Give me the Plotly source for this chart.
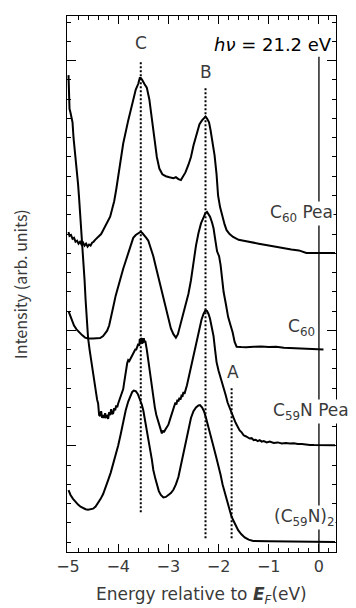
import plotly.graph_objects as go

# ---------------- data (energy in eV, intensity in arb. units incl. offsets) -------------
c60pea_x = [-4.99,-4.97,-4.94,-4.91,-4.88,-4.85,-4.82,-4.79,-4.76,-4.73,-4.70,-4.67,-4.64,-4.61,-4.58,-4.55,
            -4.52,-4.49,-4.46,-4.42,-4.38,-4.34,-4.30,-4.25,-4.20,-4.16,-4.12,-4.08,-4.04,-3.98,-3.90,-3.80,
            -3.70,-3.65,-3.60,-3.57,-3.55,-3.52,-3.48,-3.43,-3.38,-3.33,-3.28,-3.23,-3.18,-3.12,-3.05,-2.98,
            -2.90,-2.85,-2.80,-2.75,-2.70,-2.66,-2.60,-2.55,-2.50,-2.44,-2.38,-2.33,-2.29,-2.26,-2.23,-2.19,
            -2.16,-2.12,-2.08,-2.04,-2.01,-1.97,-1.93,-1.88,-1.84,-1.78,-1.71,-1.60,-1.50,-1.38,-1.20,-1.00,
            -0.80,-0.70,-0.55,-0.40,-0.32,-0.25,0.00,0.32]
c60pea_y = [16.1,15.9,15.95,15.75,15.8,15.6,15.65,15.5,15.6,15.45,15.55,15.4,15.5,15.35,15.45,15.4,
            15.55,15.6,15.7,15.8,15.9,16.0,16.2,16.45,16.7,16.9,17.3,17.7,18.3,19.3,20.7,21.9,
            23.0,23.5,23.8,24.1,24.1,24.0,23.8,23.6,23.0,22.1,21.0,20.0,19.4,19.1,19.0,18.95,
            18.9,18.95,18.85,18.8,19.0,19.2,19.6,20.0,20.6,21.2,21.7,21.9,22.05,22.1,22.0,21.8,
            21.4,20.8,20.1,19.1,18.0,17.4,16.95,16.5,16.2,16.0,15.85,15.7,15.65,15.58,15.5,15.4,
            15.3,15.25,15.2,15.15,15.1,15.02,15.02,15.02]

c60_x = [-4.99,-4.95,-4.92,-4.88,-4.83,-4.78,-4.72,-4.66,-4.60,-4.50,-4.40,-4.36,-4.30,-4.26,-4.22,-4.18,
         -4.14,-4.10,-4.05,-4.00,-3.95,-3.90,-3.85,-3.80,-3.75,-3.70,-3.65,-3.60,-3.55,-3.52,-3.48,-3.44,
         -3.40,-3.35,-3.30,-3.25,-3.20,-3.15,-3.10,-3.05,-3.00,-2.95,-2.90,-2.85,-2.81,-2.77,-2.73,-2.70,
         -2.65,-2.60,-2.55,-2.50,-2.45,-2.40,-2.35,-2.30,-2.26,-2.23,-2.20,-2.17,-2.13,-2.10,-2.06,-2.03,
         -1.99,-1.96,-1.93,-1.90,-1.85,-1.81,-1.76,-1.72,-1.68,-1.64,-1.55,-1.45,-1.30,-1.15,-1.00,-0.85,
         -0.70,-0.50,-0.38,-0.20,0.09]
c60_y = [12.0,11.75,11.5,11.25,11.05,10.9,10.75,10.62,10.58,10.58,10.58,10.6,10.7,10.82,10.98,11.25,
         11.65,12.2,12.8,13.3,13.75,14.2,14.6,15.0,15.5,15.8,15.95,16.05,16.12,16.05,15.95,15.8,
         15.65,15.3,14.85,14.3,13.75,13.25,12.75,12.1,11.55,11.1,10.8,10.62,10.8,11.2,11.7,12.05,
         12.5,12.9,13.6,14.6,15.4,16.05,16.55,16.85,17.1,17.15,17.05,16.9,16.6,16.3,15.6,15.1,
         14.85,14.4,13.7,13.0,12.3,11.7,11.25,10.9,10.4,10.15,10.13,10.12,10.15,10.16,10.13,10.15,
         10.1,10.08,10.07,10.03,10.01]

c59npea_x = [-4.99,-4.98,-4.97,-4.95,-4.93,-4.91,-4.89,-4.86,-4.83,-4.80,-4.78,-4.76,-4.74,-4.72,-4.70,-4.67,
             -4.65,-4.63,-4.60,-4.57,-4.54,-4.50,-4.47,-4.44,-4.42,-4.40,-4.38,-4.36,-4.34,-4.32,-4.30,-4.28,
             -4.26,-4.24,-4.22,-4.20,-4.18,-4.16,-4.14,-4.12,-4.10,-4.08,-4.06,-4.04,-4.02,-4.00,-3.98,-3.95,
             -3.92,-3.90,-3.88,-3.86,-3.84,-3.82,-3.80,-3.78,-3.76,-3.74,-3.72,-3.70,-3.68,-3.66,-3.64,-3.62,
             -3.60,-3.58,-3.57,-3.56,-3.55,-3.54,-3.53,-3.52,-3.51,-3.50,-3.49,-3.48,-3.46,-3.43,-3.40,-3.37,
             -3.33,-3.30,-3.27,-3.24,-3.21,-3.18,-3.15,-3.13,-3.11,-3.09,-3.06,-3.03,-3.00,-2.97,-2.94,-2.91,
             -2.88,-2.86,-2.84,-2.82,-2.80,-2.78,-2.76,-2.74,-2.72,-2.70,-2.68,-2.66,-2.63,-2.60,-2.57,-2.54,
             -2.50,-2.46,-2.42,-2.38,-2.34,-2.30,-2.26,-2.23,-2.20,-2.17,-2.14,-2.10,-2.07,-2.04,-2.00,-1.97,
             -1.93,-1.90,-1.86,-1.82,-1.78,-1.74,-1.70,-1.66,-1.62,-1.58,-1.54,-1.50,-1.46,-1.42,-1.38,-1.34,
             -1.30,-1.26,-1.22,-1.18,-1.14,-1.10,-1.04,-0.98,-0.90,-0.82,-0.74,-0.66,-0.58,-0.50,-0.42,-0.34,
             -0.26,-0.18,-0.10,0.00,0.10,0.32]
c59npea_y = [24.25,23.6,22.5,22.3,21.9,21.8,21.0,20.3,19.6,18.6,17.9,17.2,16.4,15.6,14.8,13.6,
             12.6,11.5,10.6,10.0,9.45,8.8,8.2,7.8,7.4,7.2,6.6,6.55,6.8,6.45,6.6,6.45,
             6.7,6.5,6.55,6.4,6.75,6.6,6.9,6.65,6.7,6.95,6.85,7.1,7.0,7.2,7.35,7.5,
             7.8,7.95,8.3,8.7,9.0,9.3,9.45,9.4,9.5,9.6,9.7,9.85,9.9,10.0,10.0,10.2,
             10.3,10.2,10.55,10.35,10.6,10.45,10.6,10.3,10.55,10.35,10.6,10.4,10.45,10.0,9.45,8.7,
             8.05,7.5,7.0,6.6,6.3,6.0,5.7,5.65,5.8,5.7,5.85,6.0,6.1,6.35,6.6,6.85,
             7.1,7.25,7.15,7.4,7.3,7.5,7.4,7.6,7.55,7.8,7.7,7.95,8.15,8.5,8.85,9.25,
             9.75,10.25,10.7,11.1,11.55,11.85,12.05,12.0,11.85,11.6,11.2,10.7,10.0,9.35,8.9,8.65,
             8.3,8.0,7.65,7.25,6.95,6.7,6.45,6.2,6.0,5.8,5.7,5.55,5.5,5.42,5.38,5.4,
             5.3,5.32,5.25,5.3,5.22,5.25,5.18,5.22,5.15,5.18,5.12,5.15,5.12,5.14,5.1,5.1,
             5.06,5.05,5.04,5.03,5.03,5.03]

c59n2_x = [-4.99,-4.95,-4.90,-4.85,-4.80,-4.75,-4.70,-4.65,-4.60,-4.55,-4.50,-4.45,-4.40,-4.35,-4.30,-4.25,
           -4.20,-4.15,-4.10,-4.05,-4.00,-3.95,-3.90,-3.85,-3.80,-3.76,-3.72,-3.69,-3.65,-3.61,-3.57,-3.53,
           -3.50,-3.46,-3.43,-3.40,-3.37,-3.33,-3.30,-3.26,-3.23,-3.19,-3.15,-3.10,-3.05,-3.00,-2.95,-2.90,
           -2.85,-2.80,-2.75,-2.70,-2.65,-2.60,-2.55,-2.50,-2.45,-2.40,-2.37,-2.33,-2.29,-2.25,-2.20,-2.15,
           -2.10,-2.05,-2.00,-1.96,-1.92,-1.87,-1.83,-1.79,-1.75,-1.71,-1.66,-1.61,-1.55,-1.48,-1.40,-1.31,
           -1.00,-0.38,0.32]
c59n2_y = [2.7,2.45,2.25,2.08,1.95,1.84,1.76,1.71,1.69,1.7,1.74,1.85,2.03,2.25,2.5,2.82,
           3.22,3.6,4.03,4.5,5.02,5.6,6.3,6.85,7.3,7.6,7.8,7.87,7.84,7.7,7.45,7.15,
           6.85,6.3,5.8,5.3,4.9,4.3,3.75,3.3,2.95,2.65,2.45,2.32,2.35,2.46,2.55,2.72,
           3.0,3.38,4.0,4.6,5.3,5.95,6.45,6.8,7.0,7.1,7.12,7.0,6.8,6.45,5.9,5.35,
           4.95,4.45,4.0,3.5,3.0,2.52,2.1,1.75,1.4,1.15,0.88,0.62,0.42,0.25,0.13,0.06,
           0.05,0.03,0.01]

peak_names = ["C", "B", "A"]
peak_pos = [-3.55, -2.26, -1.74]
peak_top = [24.95, 23.63, 8.0]
peak_bottom = [1.55, 0.2, 0.2]
label_y = [25.92, 24.41, 8.83]

x_ticks = [-5, -4, -3, -2, -1, 0]
y_major_ticks = [5, 11, 25]

FONT = "DejaVu Sans"
FONT2 = "Noto Sans CJK JP"
TXT = "#3a3a3a"

fig = go.Figure()

line = dict(color="black", width=2)
for xs, ys in [(c60pea_x, c60pea_y), (c60_x, c60_y), (c59npea_x, c59npea_y), (c59n2_x, c59n2_y)]:
    fig.add_trace(go.Scatter(x=xs, y=ys, mode="lines", line=line, hoverinfo="skip"))

# dotted peak markers
for p, t, b in zip(peak_pos, peak_top, peak_bottom):
    fig.add_trace(go.Scatter(x=[p, p], y=[b, t], mode="lines",
                             line=dict(color="black", width=2, dash="2px,2px"), hoverinfo="skip"))

# Fermi level line
fig.add_trace(go.Scatter(x=[0, 0], y=[-0.51, 25.2], mode="lines",
                         line=dict(color="black", width=1.3), hoverinfo="skip"))

ann = []
for n, p, ly in zip(peak_names, peak_pos, label_y):
    ann.append(dict(x=p + (0.03 if n == "A" else 0), y=ly, text=n, showarrow=False,
                    font=dict(family=FONT, size=17, color=TXT), xanchor="center", yanchor="middle"))

ann.append(dict(x=0.30, y=25.86, text="<i>hν</i> = 21.2 eV", showarrow=False,
                font=dict(family=FONT, size=18, color="black"), xanchor="right", yanchor="middle"))

# series labels: (text, x in paper units, y in data units, anchor)
series_labels = [
    ("C<sub>60</sub> Pea", 0.993, 17.05, "right"),
    ("C<sub>60</sub>", 0.872, 11.15, "center"),
    ("C<sub>59</sub>N Pea", 1.052, 6.8, "right"),
    ("(C<sub>59</sub>N)<sub>2</sub>", 1.0, 1.3, "right"),
]
for t, xx, yy, xa in series_labels:
    ann.append(dict(xref="paper", yref="y", x=xx, y=yy, text=t, showarrow=False,
                    bgcolor="white", borderpad=0,
                    font=dict(family=FONT, size=17, color=TXT), xanchor=xa, yanchor="middle"))

ann.append(dict(xref="paper", yref="paper", x=-0.175, y=0.5, text="Intensity (arb. units)",
                textangle=-90, showarrow=False, font=dict(family=FONT2, size=16, color=TXT),
                xanchor="center", yanchor="middle"))
ann.append(dict(xref="paper", yref="paper", x=0.5, y=-0.082,
                text="Energy relative to <b><i>E</i></b><sub><i>F</i></sub>(eV)",
                showarrow=False, font=dict(family=FONT, size=17, color=TXT),
                xanchor="center", yanchor="middle"))

# the page body has an 8 px margin: shrink the figure so the plot lands where the reference has it
fig.update_layout(
    width=348, height=600,
    margin=dict(l=59, r=20, t=8, b=56),
    plot_bgcolor="white", paper_bgcolor="white",
    showlegend=False,
    annotations=ann,
    xaxis=dict(range=[-5.02, 0.34], tickvals=x_ticks, ticks="inside", ticklen=8, tickwidth=1,
               tickcolor="black", showline=True, linecolor="black", linewidth=1, mirror="allticks",
               showgrid=False, zeroline=False,
               tickfont=dict(family=FONT, size=16, color=TXT),
               minor=dict(tick0=-5, dtick=0.2, ticks="inside", ticklen=4, tickcolor="black", showgrid=False)),
    yaxis=dict(range=[-0.51, 27.32], tickvals=y_major_ticks, ticks="inside", ticklen=9, tickwidth=1,
               tickcolor="black", showline=True, linecolor="black", linewidth=1, mirror="allticks",
               showgrid=False, zeroline=False, showticklabels=False,
               minor=dict(tick0=0, dtick=1, ticks="inside", ticklen=4, tickcolor="black", showgrid=False)),
)

fig.write_html("out.html")
